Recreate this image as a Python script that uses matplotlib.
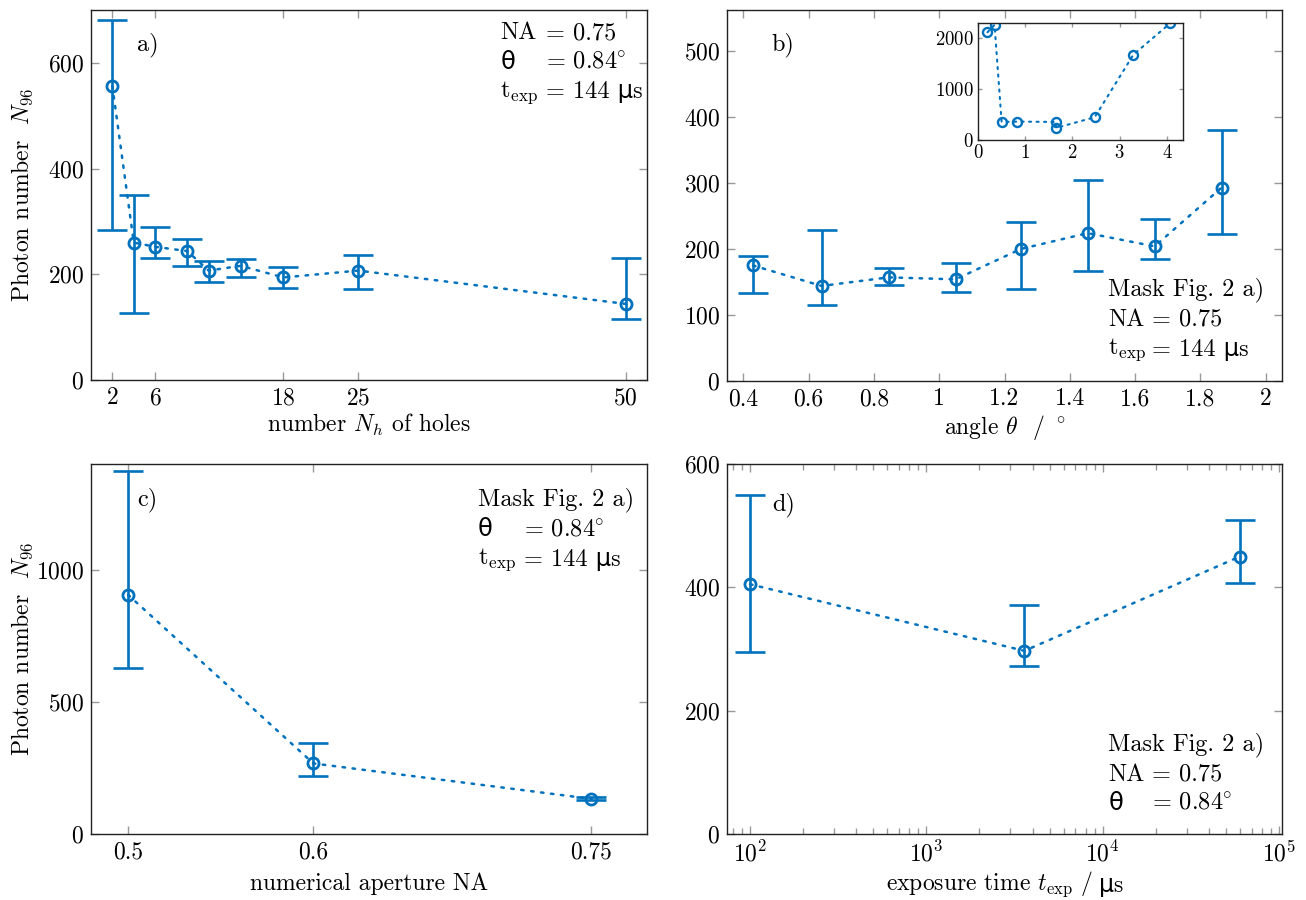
import numpy as np
import matplotlib
matplotlib.use("Agg")
import matplotlib.pyplot as plt
from matplotlib.ticker import FuncFormatter, LogLocator, NullFormatter

plt.rcParams["font.family"] = ["cmr10", "DejaVu Sans"]
plt.rcParams["mathtext.fontset"] = "cm"
plt.rcParams["axes.formatter.use_mathtext"] = True
plt.rcParams["font.size"] = 17

BLUE = "#0072BD"
FS = 17.5

# a) photon number vs number of holes
holes = [2, 4, 6, 9, 11, 14, 18, 25, 50]
n_holes = [556, 260, 252, 244, 207, 216, 194, 207, 144]
n_holes_lo = [283, 127, 230, 216, 186, 195, 175, 172, 116]
n_holes_hi = [681, 350, 290, 266, 225, 229, 214, 236, 230]

# b) photon number vs angle
angle = [0.43, 0.64, 0.845, 1.05, 1.25, 1.455, 1.66, 1.865]
n_angle = [175, 144, 157, 154, 200, 224, 204, 293]
n_angle_lo = [134, 115, 145, 135, 139, 166, 185, 222]
n_angle_hi = [190, 229, 171, 179, 241, 305, 246, 380]

# b) inset, wide angle range
angle_wide = [0.2, 0.35, 0.5, 0.83, 1.65, 1.65, 2.47, 3.29, 4.07]
n_angle_wide = [2118, 2263, 355, 362, 355, 237, 447, 1678, 2296]

# c) photon number vs numerical aperture
na = [0.5, 0.6, 0.75]
n_na = [905, 267, 133]
n_na_lo = [630, 218, 127]
n_na_hi = [1374, 343, 139]

# d) photon number vs exposure time
t_exp = [100, 3600, 60000]
n_t = [405, 297, 450]
n_t_lo = [295, 273, 407]
n_t_hi = [549, 372, 509]


def style_axes(ax, inset=False):
    ax.tick_params(which="both", direction="in", top=True, right=True,
                   color="#999999", length=3 if inset else 5.5, width=1,
                   labelsize=13.5 if inset else 17, pad=3 if inset else 5)
    ax.tick_params(which="minor", length=3 if inset else 4)
    for s in ax.spines.values():
        s.set_linewidth(1.0)
        s.set_color("#222222")


def draw_series(ax, x, y, lo, hi):
    y = np.array(y)
    err = [y - np.array(lo), np.array(hi) - y]
    ax.errorbar(x, y, yerr=err, fmt="none", ecolor=BLUE, elinewidth=1.9,
                capsize=10.5, capthick=1.9, zorder=3)
    ax.plot(x, y, color=BLUE, lw=1.8, dashes=(1, 3.0), dash_capstyle="round",
            zorder=2)
    ax.plot(x, y, ls="none", marker="o", ms=8, mfc="none", mec=BLUE,
            mew=2.0, zorder=4)


def put(ax, x, y, s):
    ax.text(x, y, s, transform=ax.transAxes, fontsize=FS, va="center", ha="left")


def annotate(ax, x0, x1, y0, dy, rows):
    for i, (left, right) in enumerate(rows):
        put(ax, x0, y0 - i * dy, left)
        put(ax, x1, y0 - i * dy, right)


fig = plt.figure(figsize=(13.06, 9.0), dpi=100)
W, H = 1306, 900


def add_ax(l, r, t, b):
    return fig.add_axes([l / W, 1 - b / H, (r - l) / W, (b - t) / H])


texp = r"$\mathrm{t_{exp}}$"
ylab = r"Photon number  $N_{96}$"
na_row = ("NA", r"= 0.75")
th_row = ("θ", r"= 0.84$\!^\circ$")
te_row = (texp, "= 144 μs")

# a)
ax = add_ax(91, 647, 10, 380)
draw_series(ax, holes, n_holes, n_holes_lo, n_holes_hi)
ax.set_xlim(0, 52)
ax.set_ylim(0, 700)
ax.set_xticks([2, 6, 18, 25, 50])
ax.set_yticks([0, 200, 400, 600])
ax.set_xlabel(r"number $N_h$ of holes", fontsize=17, labelpad=2)
ax.set_ylabel(ylab, fontsize=17)
ax.yaxis.set_label_coords(-0.10, 0.5)
style_axes(ax)
put(ax, 0.083, 0.905, "a)")
annotate(ax, 0.736, 0.819, 0.938, 0.080, [na_row, th_row, te_row])

# b)
ax = add_ax(727, 1282, 10, 381)
draw_series(ax, angle, n_angle, n_angle_lo, n_angle_hi)
ax.set_xlim(0.35, 2.05)
ax.set_ylim(0, 562)
ax.set_xticks(np.arange(0.4, 2.01, 0.2))
ax.set_yticks(np.arange(0, 501, 100))
ax.xaxis.set_major_formatter(FuncFormatter(lambda v, p: "%g" % round(v, 2)))
ax.set_xlabel(r"angle $\theta$  / $^\circ$", fontsize=17, labelpad=2)
style_axes(ax)
put(ax, 0.08, 0.906, "b)")
put(ax, 0.687, 0.245, "Mask Fig. 2 a)")
annotate(ax, 0.687, 0.766, 0.165, 0.080, [na_row, te_row])

# b) inset
ins = add_ax(978, 1183, 23, 140)
ins.plot(angle_wide, n_angle_wide, color=BLUE, lw=1.5, dashes=(1, 2.6),
         dash_capstyle="round")
ins.plot(angle_wide, n_angle_wide, ls="none", marker="o", ms=6.5, mfc="none",
         mec=BLUE, mew=1.7)
ins.set_xlim(0, 4.34)
ins.set_ylim(0, 2300)
ins.set_xticks([0, 1, 2, 3, 4])
ins.set_yticks([0, 1000, 2000])
style_axes(ins, inset=True)

# c)
ax = add_ax(91, 647, 464, 834)
draw_series(ax, na, n_na, n_na_lo, n_na_hi)
ax.set_xlim(0.48, 0.78)
ax.set_ylim(0, 1400)
ax.set_xticks([0.5, 0.6, 0.75])
ax.xaxis.set_major_formatter(FuncFormatter(lambda v, p: "%g" % round(v, 2)))
ax.set_yticks([0, 500, 1000])
ax.set_xlabel("numerical aperture NA", fontsize=17, labelpad=7)
ax.set_ylabel(ylab, fontsize=17)
ax.yaxis.set_label_coords(-0.10, 0.5)
style_axes(ax)
put(ax, 0.083, 0.903, "c)")
put(ax, 0.696, 0.903, "Mask Fig. 2 a)")
annotate(ax, 0.696, 0.779, 0.822, 0.080, [th_row, te_row])

# d)
ax = add_ax(727, 1282, 464, 834)
draw_series(ax, t_exp, n_t, n_t_lo, n_t_hi)
ax.set_xscale("log")
ax.set_xlim(74, 1.04e5)
ax.set_ylim(0, 600)
ax.set_yticks([0, 200, 400, 600])
ax.xaxis.set_major_locator(LogLocator(base=10, numticks=10))
ax.xaxis.set_minor_locator(LogLocator(base=10, subs=np.arange(2, 10), numticks=20))
ax.xaxis.set_minor_formatter(NullFormatter())
ax.set_xlabel(r"exposure time $t_\mathrm{exp}$ / ", fontsize=17, labelpad=2,
              x=0.475)
ax.annotate("μs", xy=(1, 0), xycoords=ax.xaxis.label, xytext=(3, 1),
            textcoords="offset points", ha="left", va="bottom", fontsize=17)
style_axes(ax)
put(ax, 0.082, 0.889, "d)")
put(ax, 0.687, 0.240, "Mask Fig. 2 a)")
annotate(ax, 0.687, 0.766, 0.160, 0.078, [na_row, th_row])

fig.savefig("out.png", dpi=100)
